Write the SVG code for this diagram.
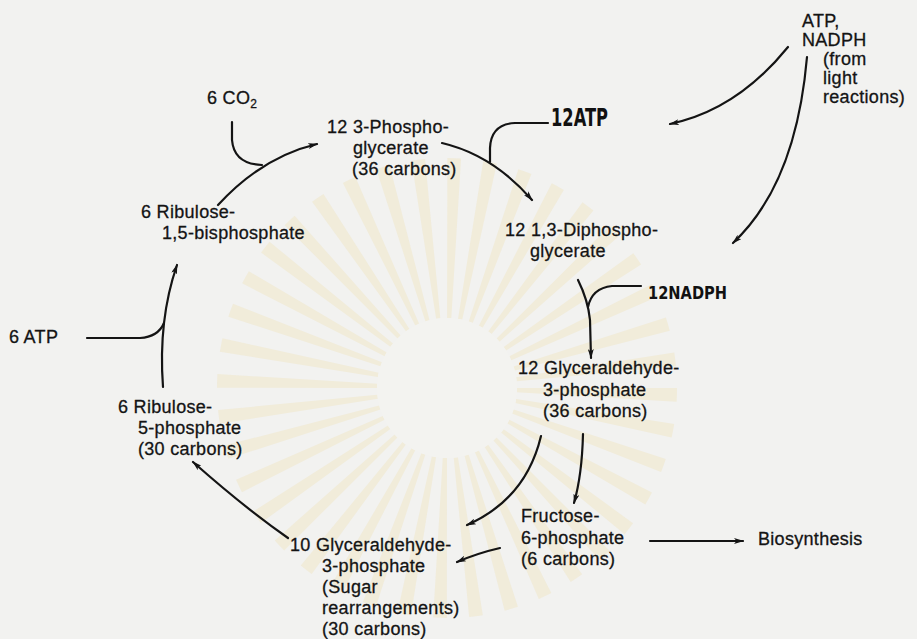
<svg xmlns="http://www.w3.org/2000/svg" width="917" height="639" viewBox="0 0 917 639">
<defs>
<style>
.t{font-family:"Liberation Sans",Arial,sans-serif;font-size:18px;fill:#141414;stroke:#141414;stroke-width:0.3;letter-spacing:0.3px}
.h{font-family:"DejaVu Sans","Liberation Sans",sans-serif;font-weight:bold;fill:#111}
.c{fill:none;stroke:#141414;stroke-width:2.2;stroke-linecap:round}
.a{marker-end:url(#ah)}
</style>
<marker id="ah" viewBox="0 0 10 6" refX="9" refY="3" markerWidth="10" markerHeight="6" markerUnits="userSpaceOnUse" orient="auto">
<path d="M0,0 L10,3 L0,6 L2.5,3 z" fill="#141414"/>
</marker>
</defs>
<rect width="917" height="639" fill="#f2f2f0"/>
<g id="watermark" opacity="0.3">
<circle cx="447" cy="388" r="150" fill="none" stroke="#f0dfa8" stroke-width="160" stroke-dasharray="9 14.56"/>
<circle cx="447" cy="388" r="70" fill="#f8f7f2"/>
</g>
<g id="connectors">
<path class="c a" d="M218,205 Q262,157 317,144"/>
<path class="c" d="M232,122 L232,140 Q234,164 262,165"/>
<path class="c a" d="M442,143 Q493,155 532,200"/>
<path class="c" d="M548,123 L515,123 Q491,124 490,148 L490,162"/>
<path class="c a" d="M788,47 Q737,110 670,124"/>
<path class="c a" d="M807,57 Q796,184 733,243"/>
<path class="c a" d="M578,280 Q588,300 590,320 L591,358"/>
<path class="c" d="M641,286 L612,286 Q592,288 588,307"/>
<path class="c a" d="M541,436 Q526,499 467,525"/>
<path class="c a" d="M583,434 Q582,475 574,503"/>
<path class="c a" d="M500,548 Q478,553 457,562"/>
<path class="c a" d="M650,541 L743,541"/>
<path class="c a" d="M288,538 Q245,508 193,462"/>
<path class="c a" d="M163,387 Q158,320 177,265"/>
<path class="c" d="M87,338 L140,338 Q158,337 164,323"/>
</g>
<g id="n-light"><text class="t" x="802" y="27">ATP,</text><text class="t" x="802" y="46">NADPH</text><text class="t" x="823" y="65">(from</text><text class="t" x="823" y="84">light</text><text class="t" x="823" y="103">reactions)</text></g>
<g id="n-co2"><text class="t" x="207" y="104">6 CO<tspan font-size="12" dy="4">2</tspan></text></g>
<g id="n-3pg"><text class="t" x="327" y="133">12 3-Phospho-</text><text class="t" x="353" y="154">glycerate</text><text class="t" x="352" y="175">(36 carbons)</text></g>
<g id="n-12atp"><text class="h" x="551" y="126" font-size="25" textLength="57" lengthAdjust="spacingAndGlyphs">12ATP</text></g>
<g id="n-rubp"><text class="t" x="141" y="218">6 Ribulose-</text><text class="t" x="162" y="239">1,5-bisphosphate</text></g>
<g id="n-dpg"><text class="t" x="505" y="236">12 1,3-Diphospho-</text><text class="t" x="530" y="257">glycerate</text></g>
<g id="n-12nadph"><text class="h" x="648" y="299" font-size="18" textLength="79" lengthAdjust="spacingAndGlyphs">12NADPH</text></g>
<g id="n-6atp"><text class="t" x="9" y="343">6 ATP</text></g>
<g id="n-g3p12"><text class="t" x="518" y="374">12 Glyceraldehyde-</text><text class="t" x="543" y="396">3-phosphate</text><text class="t" x="543" y="417">(36 carbons)</text></g>
<g id="n-ru5p"><text class="t" x="118" y="413">6 Ribulose-</text><text class="t" x="138" y="434">5-phosphate</text><text class="t" x="138" y="455">(30 carbons)</text></g>
<g id="n-f6p"><text class="t" x="521" y="522">Fructose-</text><text class="t" x="521" y="544">6-phosphate</text><text class="t" x="521" y="565">(6 carbons)</text></g>
<g id="n-bio"><text class="t" x="758" y="545">Biosynthesis</text></g>
<g id="n-g3p10"><text class="t" x="290" y="551">10 Glyceraldehyde-</text><text class="t" x="322" y="572">3-phosphate</text><text class="t" x="322" y="593">(Sugar</text><text class="t" x="322" y="614">rearrangements)</text><text class="t" x="322" y="635">(30 carbons)</text></g>
</svg>
